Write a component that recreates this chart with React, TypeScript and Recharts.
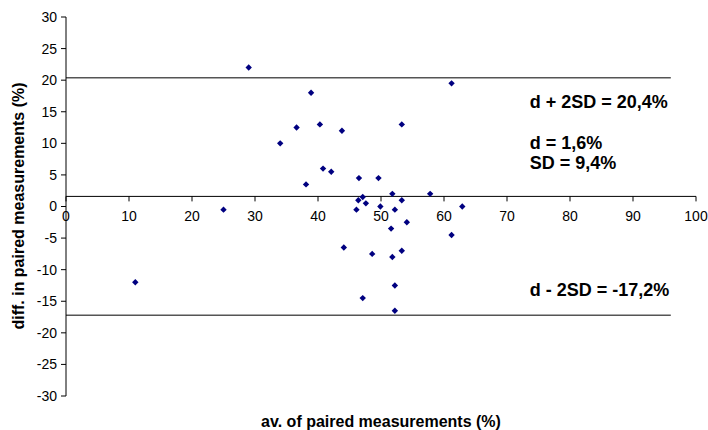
import { ReferenceLine, Scatter, ScatterChart, XAxis, YAxis } from "recharts";

// Bland-Altman style data
const avgValues = [
  11, 25, 29, 34, 36.6, 38.1, 38.9, 40.3, 40.8, 42.1, 43.8, 44.1, 46.1, 46.4, 46.5, 47.1, 47.1, 47.6,
  48.6, 49.6, 49.9, 51.6, 51.8, 51.8, 52.2, 52.2, 52.2, 53.3, 53.3, 53.3, 54.1, 57.8, 61.2, 61.2, 62.9,
];
const diffValues = [
  -12, -0.5, 22, 10, 12.5, 3.5, 18, 13, 6, 5.5, 12, -6.5, -0.5, 1, 4.5, 1.5, -14.5, 0.5,
  -7.5, 4.5, 0, -3.5, 2, -8, -0.5, -12.5, -16.5, 13, 1, -7, -2.5, 2, 19.5, -4.5, 0,
];

const xTicks = [0, 10, 20, 30, 40, 50, 60, 70, 80, 90, 100];
const yTicks = [30, 25, 20, 15, 10, 5, 0, -5, -10, -15, -20, -25, -30];

const meanDiff = 1.6;
const upperLimit = 20.4;
const lowerLimit = -17.2;
const limitLineEnd = 96;

const upperText = "d + 2SD = 20,4%";
const meanText = "d = 1,6%";
const sdText = "SD = 9,4%";
const lowerText = "d - 2SD = -17,2%";
const xTitle = "av. of paired measurements (%)";
const yTitle = "diff. in paired measurements (%)";

const points = avgValues.map((x, i) => ({ x, y: diffValues[i] }));

const FONT = "'Liberation Sans', Arial, sans-serif";
const NAVY = "#000080";
const LIMIT_GREY = "#555555";
const ANNOT_WIDTH = 141;

function Diamond(props: any) {
  const { cx, cy } = props;
  const r = 3.2;
  return (
    <polygon
      points={`${cx},${cy - r} ${cx + r},${cy} ${cx},${cy + r} ${cx - r},${cy}`}
      fill={NAVY}
    />
  );
}

const annotStyle = { fontFamily: FONT, fontSize: 18, fontWeight: 700, fill: "#000" };

function UpperLabel(props: any) {
  const { viewBox } = props;
  const left = viewBox.x + viewBox.width - ANNOT_WIDTH;
  return (
    <g>
      <text x={left} y={viewBox.y + 24} dominantBaseline="central" {...annotStyle}>
        {upperText}
      </text>
      <text x={left} y={viewBox.y + 65} dominantBaseline="central" {...annotStyle}>
        {meanText}
      </text>
      <text x={left} y={viewBox.y + 85} dominantBaseline="central" {...annotStyle}>
        {sdText}
      </text>
    </g>
  );
}

function LowerLabel(props: any) {
  const { viewBox } = props;
  const left = viewBox.x + viewBox.width - ANNOT_WIDTH;
  return (
    <text x={left} y={viewBox.y - 25} dominantBaseline="central" {...annotStyle}>
      {lowerText}
    </text>
  );
}

// x axis crosses at d, so its ticks hang off the mean line
function xTickShape(value: number) {
  return (p: any) => (
    <g>
      <line x1={p.x1} y1={p.y1} x2={p.x1} y2={p.y1 + 5} stroke="#000" strokeWidth={1} />
      <text
        x={p.x1}
        y={p.y1 + 20}
        textAnchor="middle"
        dominantBaseline="central"
        fontFamily={FONT}
        fontSize={14}
        fill="#000"
      >
        {value}
      </text>
    </g>
  );
}

export default function App() {
  return (
    <div style={{ position: "absolute", left: 0, top: 0, width: 708, height: 430, background: "#fff" }}>
      <ScatterChart width={708} height={430} margin={{ top: 17, right: 12, bottom: 34, left: 6 }}>
        <XAxis type="number" dataKey="x" domain={[0, 100]} ticks={xTicks} hide />
        <YAxis
          type="number"
          dataKey="y"
          domain={[-30, 30]}
          ticks={yTicks}
          interval={0}
          width={60}
          tickSize={5}
          tickMargin={4}
          axisLine={{ stroke: "#000" }}
          tickLine={{ stroke: "#000" }}
          tick={{ fill: "#000", fontSize: 14, fontFamily: FONT }}
        />
        <ReferenceLine y={meanDiff} stroke="#000" strokeWidth={1} />
        {xTicks.map((t) => (
          <ReferenceLine
            key={t}
            segment={[
              { x: t, y: meanDiff },
              { x: t, y: meanDiff },
            ]}
            shape={xTickShape(t)}
          />
        ))}
        <ReferenceLine
          segment={[
            { x: 0, y: upperLimit },
            { x: limitLineEnd, y: upperLimit },
          ]}
          stroke={LIMIT_GREY}
          strokeWidth={1.5}
          label={UpperLabel}
        />
        <ReferenceLine
          segment={[
            { x: 0, y: lowerLimit },
            { x: limitLineEnd, y: lowerLimit },
          ]}
          stroke={LIMIT_GREY}
          strokeWidth={1.5}
          label={LowerLabel}
        />
        <Scatter data={points} shape={Diamond} isAnimationActive={false} />
      </ScatterChart>
      <svg
        width={708}
        height={430}
        style={{ position: "absolute", left: 0, top: 0, pointerEvents: "none" }}
      >
        <text
          x={381}
          y={421}
          textAnchor="middle"
          dominantBaseline="central"
          fontFamily={FONT}
          fontSize={16}
          fontWeight={700}
          fill="#000"
        >
          {xTitle}
        </text>
        <text
          x={18}
          y={206}
          transform="rotate(-90 18 206)"
          textAnchor="middle"
          dominantBaseline="central"
          fontFamily={FONT}
          fontSize={16}
          fontWeight={700}
          fill="#000"
        >
          {yTitle}
        </text>
      </svg>
    </div>
  );
}
